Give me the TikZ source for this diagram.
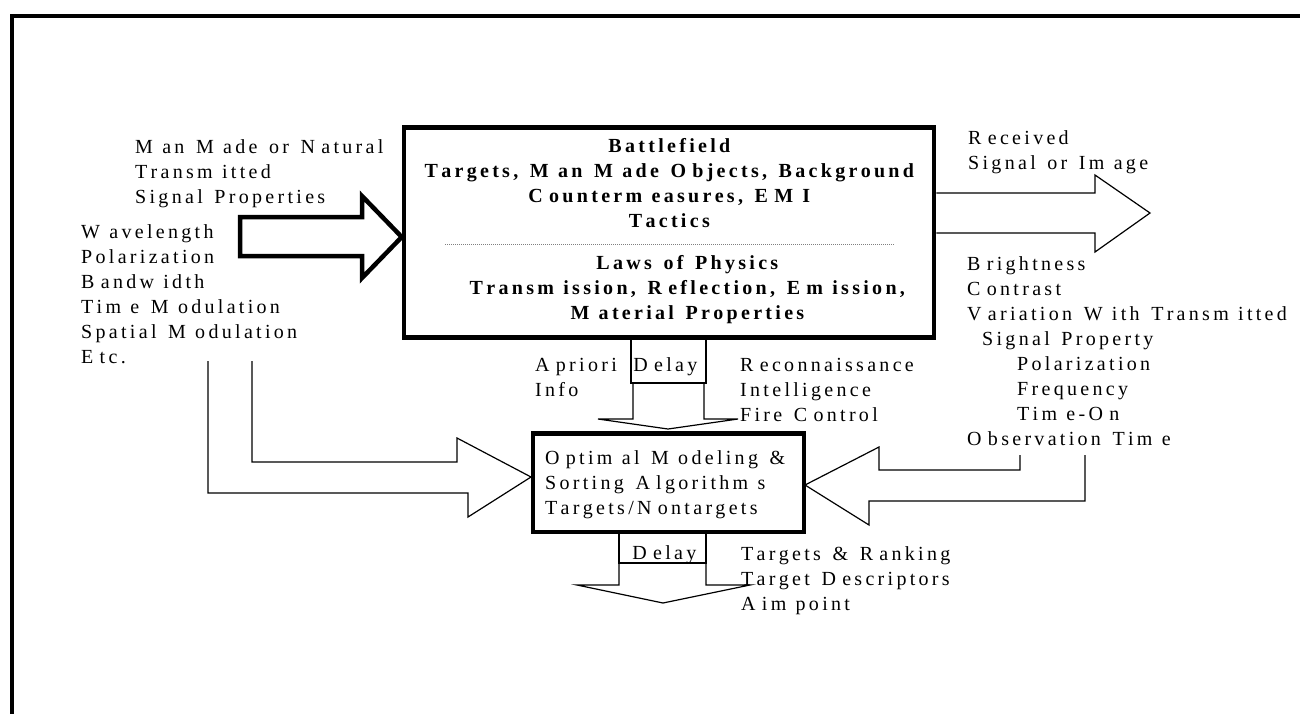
\documentclass[tikz,border=0pt]{standalone}
\usepackage{fontspec}
\setmainfont{Liberation Serif}
\ExplSyntaxOn
\box_new:N \l_spc_box
\dim_new:N \l_spc_extra_dim
\dim_new:N \l_spc_ls_dim
\bool_new:N \l_spc_bold_bool
\dim_set:Nn \l_spc_ls_dim {3.3pt}
\cs_new_protected:Npn \spc_char:n #1
  {
    \str_if_eq:nnTF {#1} {~}
      { \skip_horizontal:n { \fontdimen2\font + \l_spc_ls_dim } }
      {
        \hbox_set:Nn \l_spc_box {#1}
        \dim_set:Nn \l_spc_extra_dim {0pt}
        \str_case:nnF {#1}
          {
            {M}{\dim_set:Nn \l_spc_extra_dim {6pt}}
            {m}{\dim_set:Nn \l_spc_extra_dim {6pt}}
            {W}{\dim_set:Nn \l_spc_extra_dim {6pt}}
            {w}{\bool_if:NF \l_spc_bold_bool {\dim_set:Nn \l_spc_extra_dim {6pt}}}
            {B}{\bool_if:NF \l_spc_bold_bool {\dim_set:Nn \l_spc_extra_dim {3pt}}}
            {N}{\dim_set:Nn \l_spc_extra_dim {3pt}}
            {V}{\dim_set:Nn \l_spc_extra_dim {3pt}}
            {O}{\dim_set:Nn \l_spc_extra_dim {3pt}}
            {A}{\dim_set:Nn \l_spc_extra_dim {3pt}}
            {E}{\dim_set:Nn \l_spc_extra_dim {3pt}}
            {C}{\dim_set:Nn \l_spc_extra_dim {3pt}}
            {D}{\dim_set:Nn \l_spc_extra_dim {3pt}}
            {R}{\dim_set:Nn \l_spc_extra_dim {3pt}}
          }
          { }
        \hbox_to_wd:nn { \box_wd:N \l_spc_box + \l_spc_ls_dim + \l_spc_extra_dim }
          { \box_use:N \l_spc_box \hfil }
      }
  }
\NewDocumentCommand \ws { m }
  { \str_map_inline:nn {#1} { \spc_char:n {##1} } }
\NewDocumentCommand \wsb { m }
  { \group_begin: \bool_set_true:N \l_spc_bold_bool \ws {#1} \group_end: }
\ExplSyntaxOff
\begin{document}
\begin{tikzpicture}[x=1pt,y=-1pt,
  txt/.style={inner sep=0pt, align=left, anchor=north west, font=\fontsize{20}{25}\selectfont},
  btxt/.style={inner sep=0pt, align=center, anchor=north, font=\bfseries\fontsize{20}{25}\selectfont},
  onetxt/.style={inner sep=0pt, anchor=base, font=\fontsize{20}{25}\selectfont},
  thinline/.style={line width=1.2pt, line join=miter},
  thickline/.style={line width=4.5pt, line join=miter},
  bigbox/.style={draw, line width=4.5pt, inner sep=0pt}]
\useasboundingbox (0,0) rectangle (1300,713);
% frame
\draw[line width=4pt] (12,730) -- (12,16) -- (1320,16);
% boxes
\node[bigbox, minimum width=530pt, minimum height=210pt] (battle) at (669,232.5) {};
\node[bigbox, minimum width=271pt, minimum height=98.5pt] (optimal) at (668.5,482.75) {};
% top box texts
\node[btxt] (bf) at (671,138) {\wsb{Battlefield}\\\wsb{Targets, Man Made Objects, Background}\\\wsb{Countermeasures, EMI}\\\wsb{Tactics}};
\draw[line width=0.7pt, gray, dash pattern=on 1pt off 1pt] (445,244) -- (895,244);
\node[btxt] (lp) at (689,255) {\wsb{Laws of Physics}\\\wsb{Transmission, Reflection, Emission,}\\\wsb{Material Properties}};
% bottom box text
\node[txt] (opt) at (545,450) {\ws{Optimal Modeling &}\\\ws{Sorting Algorithms}\\\ws{Targets/Nontargets}};
% left texts
\node[txt] (mm) at (135,139) {\ws{Man Made or Natural}\\\ws{Transmitted}\\\ws{Signal Properties}};
\node[txt] (wl) at (81,224) {\ws{Wavelength}\\\ws{Polarization}\\\ws{Bandwidth}\\\ws{Time Modulation}\\\ws{Spatial Modulation}\\\ws{Etc.}};
% right texts
\node[txt] (rec) at (968,130) {\ws{Received}\\\ws{Signal or Image}};
\node[txt] (br) at (967,256) {\ws{Brightness}\\\ws{Contrast}\\\ws{Variation With Transmitted}\\\hspace*{15pt}\ws{Signal Property}\\\hspace*{50pt}\ws{Polarization}\\\hspace*{50pt}\ws{Frequency}\\\hspace*{50pt}\ws{Time-On}\\\ws{Observation Time}};
% centre texts
\node[txt] (ap) at (535,358) {\ws{Apriori}\\\ws{Info}};
\node[txt] (rc) at (740,358) {\ws{Reconnaissance}\\\ws{Intelligence}\\\ws{Fire Control}};
\node[onetxt] (d1) at (667,371) {\ws{Delay}};
\node[onetxt] (d2) at (666,559) {\ws{Delay}};
\node[txt] (tr) at (741,546) {\ws{Targets & Ranking}\\\ws{Target Descriptors}\\\ws{Aimpoint}};
% left thick arrow into battlefield box
\draw[thickline] (240,217) -- (362,217) -- (362,196) -- (battle.west |- 0,237) -- (362,278) -- (362,256) -- (240,256) -- cycle;
% right output arrow
\draw[thinline] (battle.east |- 0,193) -- (1095,193) -- (1095,175) -- (1150,213) -- (1095,252) -- (1095,233) -- (battle.east |- 0,233);
% top down arrow with delay
\draw[thinline] (631,337.5) rectangle (706,383);
\draw[thinline] (633,383) -- (633,419) -- (598,419) -- (668,429) -- (738,419) -- (704,419) -- (704,383);
% bottom down arrow with delay
\draw[thinline] (619,532) rectangle (706,563);
\draw[thinline] (619,563) -- (619,585) -- (577,585) -- (663,603) -- (750,585) -- (706,585) -- (706,563);
% right incoming arrow
\draw[thinline] (1020,455) -- (1020,470) -- (879,470) -- (879,447) -- (805,485) -- (869,525) -- (869,501) -- (1085,501) -- (1085,455);
% left incoming arrow
\draw[thinline] (252,361) -- (252,462) -- (457,462) -- (457,438) -- (531,477) -- (468,517) -- (468,493) -- (208,493) -- (208,361);
\end{tikzpicture}
\end{document}
